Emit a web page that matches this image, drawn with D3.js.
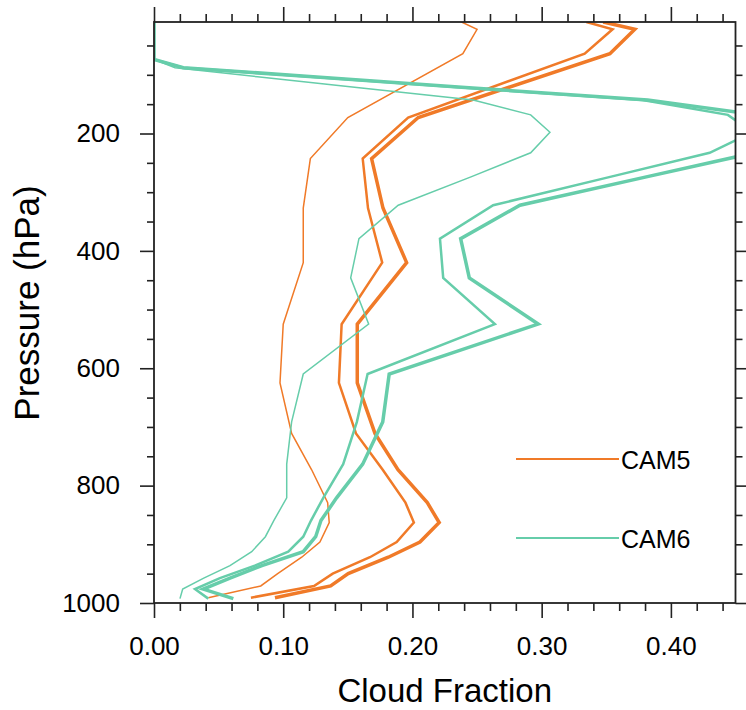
<!DOCTYPE html>
<html>
<head>
<meta charset="utf-8">
<script src="https://cdn.jsdelivr.net/npm/d3@7"></script>
<style>
  html, body { margin: 0; padding: 0; background: #fff; }
  svg { display: block; font-family: "Liberation Sans", Arial, Helvetica, sans-serif; }
</style>
</head>
<body>
<svg id="chart" width="746" height="710"></svg>
<script>
// Model level pressures (hPa)
const cam5Levels = [10, 22.4, 64, 172.7, 242.7, 327, 420, 525, 625, 711, 773, 829, 863, 896, 922, 950, 971, 991];
const cam6Levels = [3.64, 7.59, 14.36, 24.61, 35.92, 43.19, 51.68, 61.52, 73.75, 87.82, 103.32, 121.55,
  142.99, 168.23, 197.91, 232.83, 273.91, 322.24, 379.10, 445.99, 524.69, 609.78, 691.39, 763.40,
  820.86, 859.53, 887.02, 912.64, 936.20, 957.49, 976.33, 992.56];

// CAM5 cloud fraction profiles (three runs)
const cam5RunA = [0.238, 0.250, 0.239, 0.150, 0.121, 0.1155, 0.1155, 0.100, 0.0975, 0.1065, 0.122, 0.1344, 0.1356, 0.1284, 0.1143, 0.0957, 0.0826, 0.042];
const cam5RunB = [0.3346, 0.3549, 0.3333, 0.1967, 0.1615, 0.1656, 0.1766, 0.1452, 0.1431, 0.1563, 0.177, 0.1946, 0.2011, 0.1878, 0.1671, 0.1383, 0.1238, 0.075];
const cam5RunC = [0.3476, 0.3721, 0.3528, 0.2045, 0.1684, 0.1772, 0.1955, 0.1573, 0.1573, 0.171, 0.1888, 0.2115, 0.2207, 0.2058, 0.1813, 0.1503, 0.1367, 0.0936];

// CAM6 cloud fraction profiles (three runs)
const cam6RunA = [0, 0, 0, 0, 0, 0, 0, 0, 0, 0.0163, 0.0801, 0.157, 0.247, 0.2915, 0.3064, 0.2915, 0.2453,
  0.189, 0.1586, 0.1522, 0.1661, 0.1155, 0.1065, 0.1027, 0.1027, 0.0927, 0.0862, 0.0756, 0.0588, 0.0385, 0.0222, 0.0201];
const cam6RunB = [0, 0, 0, 0, 0, 0, 0, 0, 0, 0.0227, 0.121, 0.238, 0.378, 0.4441, 0.463, 0.430, 0.353,
  0.2625, 0.2213, 0.2238, 0.2638, 0.1653, 0.157, 0.1464, 0.131, 0.1215, 0.1155, 0.1039, 0.078, 0.051, 0.0317, 0.042];
const cam6RunC = [0, 0, 0, 0, 0, 0, 0, 0, 0, 0.0227, 0.1231, 0.2409, 0.382, 0.4675, 0.49, 0.4645, 0.381,
  0.2832, 0.2373, 0.244, 0.2973, 0.182, 0.177, 0.1615, 0.1413, 0.1292, 0.1251, 0.1155, 0.0835, 0.0588, 0.0381, 0.0614];

const xTicks = [0, 0.1, 0.2, 0.3, 0.4];
const xTickLabels = ["0.00", "0.10", "0.20", "0.30", "0.40"];
const yTicks = [200, 400, 600, 800, 1000];
const yTickLabels = ["200", "400", "600", "800", "1000"];
const legendNames = ["CAM5", "CAM6"];

const colorCAM5 = "#F07A28";
const colorCAM6 = "#66CDAA";

const series = [
  { levels: cam5Levels, values: cam5RunA, color: colorCAM5, width: 1.5 },
  { levels: cam5Levels, values: cam5RunB, color: colorCAM5, width: 2.5 },
  { levels: cam5Levels, values: cam5RunC, color: colorCAM5, width: 3.5 },
  { levels: cam6Levels, values: cam6RunA, color: colorCAM6, width: 1.5 },
  { levels: cam6Levels, values: cam6RunB, color: colorCAM6, width: 2.5 },
  { levels: cam6Levels, values: cam6RunC, color: colorCAM6, width: 3.5 }
];

const svg = d3.select("#chart");
const plotL = 154, plotR = 735.5, plotT = 22, plotB = 603;

const x = d3.scaleLinear().domain([0, 0.45]).range([plotL, plotR]);
const y = d3.scaleLinear().domain([10, 1000]).range([plotT, plotB]);

svg.append("defs").append("clipPath").attr("id", "plotClip")
  .append("rect").attr("x", plotL).attr("y", plotT)
  .attr("width", plotR - plotL).attr("height", plotB - plotT);

const line = d3.line().x(d => x(d[0])).y(d => y(d[1]));

const plot = svg.append("g").attr("clip-path", "url(#plotClip)");
series.forEach(s => {
  const pts = s.values.map((v, i) => [v, s.levels[i]]);
  plot.append("path")
    .attr("d", line(pts))
    .attr("fill", "none")
    .attr("stroke", s.color)
    .attr("stroke-width", s.width)
    .attr("stroke-linejoin", "miter");
});

// axes: major and minor ticks on all four sides, pointing outward
const xMinor = d3.range(0, 0.4501, 0.02).filter(v => Math.abs(v * 10 - Math.round(v * 10)) > 1e-6);
const yMinor = d3.range(50, 1000, 50).filter(v => v % 200 !== 0);

function styleAxis(g) {
  g.selectAll(".domain").remove();
  g.selectAll(".tick line").attr("stroke", "#222").attr("stroke-width", 1.6);
  g.selectAll(".tick text").attr("fill", "#000").attr("font-size", 26)
    .attr("font-family", "'Liberation Sans', Arial, Helvetica, sans-serif");
}

const fmtX = d => xTickLabels[xTicks.indexOf(d)];
const fmtY = d => yTickLabels[yTicks.indexOf(d)];

svg.append("g").attr("transform", `translate(0,${plotB})`)
  .call(d3.axisBottom(x).tickValues(xTicks).tickFormat(fmtX).tickSize(15).tickPadding(19))
  .call(styleAxis);
svg.append("g").attr("transform", `translate(0,${plotB})`)
  .call(d3.axisBottom(x).tickValues(xMinor).tickFormat("").tickSize(8)).call(styleAxis);
svg.append("g").attr("transform", `translate(0,${plotT})`)
  .call(d3.axisTop(x).tickValues(xTicks).tickFormat("").tickSize(15)).call(styleAxis);
svg.append("g").attr("transform", `translate(0,${plotT})`)
  .call(d3.axisTop(x).tickValues(xMinor).tickFormat("").tickSize(8)).call(styleAxis);

svg.append("g").attr("transform", `translate(${plotL},0)`)
  .call(d3.axisLeft(y).tickValues(yTicks).tickFormat(fmtY).tickSize(14).tickPadding(20))
  .call(styleAxis);
svg.append("g").attr("transform", `translate(${plotL},0)`)
  .call(d3.axisLeft(y).tickValues(yMinor).tickFormat("").tickSize(7)).call(styleAxis);
svg.append("g").attr("transform", `translate(${plotR},0)`)
  .call(d3.axisRight(y).tickValues(yTicks).tickFormat("").tickSize(14)).call(styleAxis);
svg.append("g").attr("transform", `translate(${plotR},0)`)
  .call(d3.axisRight(y).tickValues(yMinor).tickFormat("").tickSize(7)).call(styleAxis);

// plot frame
svg.append("rect")
  .attr("x", plotL).attr("y", plotT)
  .attr("width", plotR - plotL).attr("height", plotB - plotT)
  .attr("fill", "none").attr("stroke", "#222").attr("stroke-width", 1.8);

// axis titles
svg.append("text")
  .attr("x", (plotL + plotR) / 2).attr("y", 702)
  .attr("text-anchor", "middle").attr("font-size", 33).attr("fill", "#000")
  .text("Cloud Fraction");
svg.append("text")
  .attr("transform", `translate(39,303) rotate(-90)`)
  .attr("text-anchor", "middle").attr("font-size", 35).attr("fill", "#000")
  .text("Pressure (hPa)");

// legend
const legend = svg.append("g");
[[legendNames[0], colorCAM5, 459], [legendNames[1], colorCAM6, 538]].forEach(([name, c, ly]) => {
  legend.append("line").attr("x1", 516).attr("x2", 619).attr("y1", ly).attr("y2", ly)
    .attr("stroke", c).attr("stroke-width", 2);
  legend.append("text").attr("x", 621).attr("y", ly + 10)
    .attr("font-size", 25).attr("fill", "#000").text(name);
});
</script>
</body>
</html>
